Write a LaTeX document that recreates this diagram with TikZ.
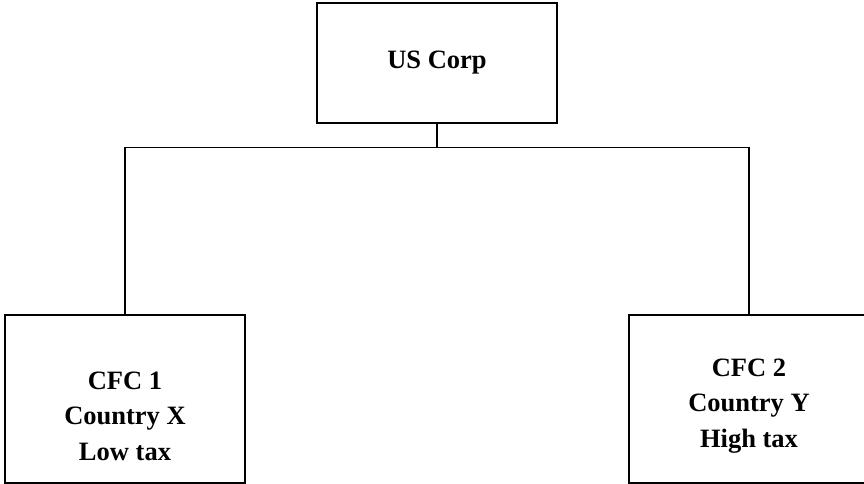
\documentclass[tikz,border=0pt]{standalone}
\usepackage{fontspec}
\setmainfont{Liberation Serif}
\usetikzlibrary{positioning}

\tikzset{
  entity/.style={draw, line width=1.3pt, minimum width=240pt, inner sep=0pt},
  entitytext/.style={align=center, font=\bfseries\fontsize{26.5}{35.5}\selectfont},
}

\begin{document}
\begin{tikzpicture}[x=1pt, y=1pt, line width=1.3pt]
  \useasboundingbox (0,0) rectangle (864,484);

  % parent company on top
  \node[entity, entitytext, minimum height=120pt] (uscorp) at (437,421) {US Corp};

  % the two subsidiaries below it
  \node[entity, minimum height=168pt] (cfcone) at (125,85) {};
  \node[entity, minimum height=168pt] (cfctwo) at (749,85) {};
  \node[entitytext] (cfconetext) at ([yshift=-17pt]cfcone.center) {CFC 1\\Country X\\Low tax};
  \node[entitytext] (cfctwotext) at ([yshift=-7pt]cfctwo.center) {CFC 2\\Country Y\\High tax};

  \coordinate (split) at ([yshift=-24pt]uscorp.south);
  \draw (uscorp.south) -- (split) -| (cfcone.north);
  \draw (split) -| (cfctwo.north);
\end{tikzpicture}
\end{document}
